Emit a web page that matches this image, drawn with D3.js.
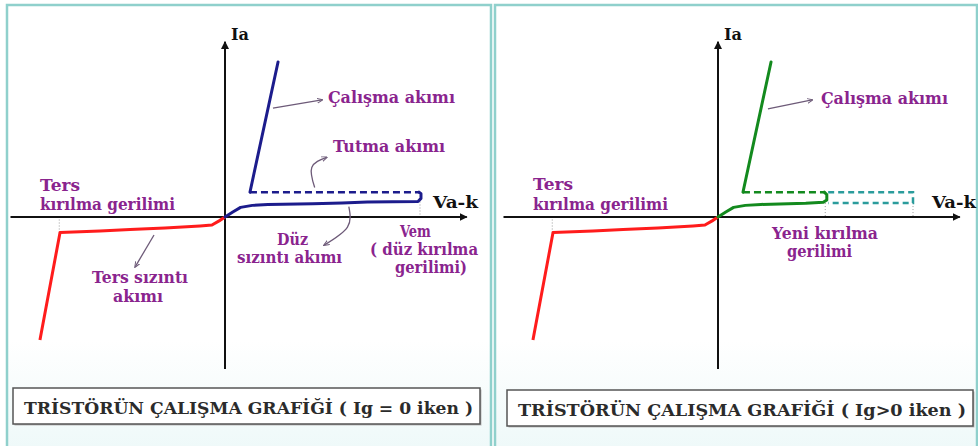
<!DOCTYPE html>
<html>
<head>
<meta charset="utf-8">
<script src="https://cdn.jsdelivr.net/npm/d3@7"></script>
<style>
html, body { margin: 0; padding: 0; background: #fff; }
svg { display: block; }
svg text { font-family: "DejaVu Serif", "Liberation Serif", "Times New Roman", serif; }
</style>
</head>
<body>
<div id="chart"></div>
<script>
// chart units: voltage Va-k (Vem = 100), current Ia (top of on-state line = 100)
const reverseCurve = [[0, 0], [-3, -2.5], [-6.7, -5.2], [-12.8, -5.8], [-30.8, -7.1], [-48.7, -8.1],
  [-64.1, -9], [-84.6, -10], [-94.9, -79.4]];
const forwardLeakLeft = [[0, 0], [4, 3.2], [8, 6.2], [14, 7.5], [22, 8.1], [45, 8.6], [60, 9.1],
  [73, 9.7], [99, 10], [100.5, 12], [100.5, 15], [99.5, 16]];
const forwardLeakRight = [[0, 0], [4, 3.2], [8, 6.2], [14, 7.5], [22, 8.1], [45, 8.9], [54, 9.5],
  [55.8, 11], [55.8, 14.5], [54.5, 16]];
const onState = [[12.8, 16], [27.2, 100]];
const holdingLeft = [[12.8, 16], [99.5, 16]];
const holdingRight = [[12.8, 16], [55, 16]];
const oldBreakover = [[56.5, 16], [100, 16], [100, 9], [56.5, 9]];

const reverseBreak = -85;   // ters kirilma gerilimi
const vem = 100;            // duz kirilma gerilimi (Ig = 0)
const newBreak = 55;        // yeni kirilma gerilimi (Ig > 0)

const axisX = [-110, 124];
const axisY = [-98, 113];

const leftLabels = [
  { t: "Ia", v: 3.1, i: 114.2, w: 18, c: "#111" },
  { t: "Va-k", v: 106.7, i: 5.8, w: 45, c: "#111" },
  { t: "Çalışma akımı", v: 52.8, i: 73.5, w: 127 },
  { t: "Tutma akımı", v: 55.4, i: 41.9, w: 112 },
  { t: "Ters", v: -94.9, i: 16.8, w: 40 },
  { t: "kırılma gerilimi", v: -94.9, i: 4.5, w: 135 },
  { t: "Ters sızıntı", v: -68.2, i: -42.6, w: 96 },
  { t: "akımı", v: -57.4, i: -54.8, w: 50 },
  { t: "Düz", v: 26.7, i: -17.8, w: 31 },
  { t: "sızıntı akımı", v: 6.2, i: -29.9, w: 105 },
  { t: "Vem", v: 89.7, i: -12.9, w: 31 },
  { t: "( düz kırılma", v: 74.4, i: -24.5, w: 108 },
  { t: "gerilimi)", v: 87.2, i: -36.1, w: 72 }
];
const rightLabels = [
  { t: "Ia", v: 3.1, i: 114.2, w: 18, c: "#111" },
  { t: "Va-k", v: 109.7, i: 5.8, w: 44, c: "#111" },
  { t: "Çalışma akımı", v: 52.8, i: 72.9, w: 127 },
  { t: "Ters", v: -94.9, i: 17.4, w: 40 },
  { t: "kırılma gerilimi", v: -94.9, i: 4.5, w: 135 },
  { t: "Yeni kırılma", v: 27.7, i: -14.2, w: 106 },
  { t: "gerilimi", v: 35.4, i: -25.8, w: 65 }
];

// pointer arrows (chart units)
const leftPointers = [
  [[24.6, 70.3], [49.7, 75.5]],
  [[46, 19], [44.5, 32], [52, 38.5]],
  [[63.5, 6.7], [62.8, -6.5], [51, -18]],
  [[-36.4, -11.6], [-46, -32]]
];
const rightPointers = [
  [[25.6, 69.7], [48.2, 75.5]]
];

const captions = ["TRİSTÖRÜN ÇALIŞMA GRAFİĞİ ( Ig = 0 iken )", "TRİSTÖRÜN ÇALIŞMA GRAFİĞİ ( Ig>0 iken )"];

const width = 978, height = 446;
const svg = d3.select("#chart").append("svg")
  .attr("width", width)
  .attr("height", height);

const defs = svg.append("defs");
const grad = defs.append("linearGradient").attr("id", "bg").attr("x1", 0).attr("y1", 0).attr("x2", 0).attr("y2", 1);
grad.append("stop").attr("offset", "0%").attr("stop-color", "#ffffff");
grad.append("stop").attr("offset", "75%").attr("stop-color", "#ffffff");
grad.append("stop").attr("offset", "100%").attr("stop-color", "#eef9f9");

defs.append("marker").attr("id", "axArrow")
  .attr("viewBox", "0 0 10 10").attr("refX", 9).attr("refY", 5)
  .attr("markerWidth", 4).attr("markerHeight", 4).attr("orient", "auto")
  .append("path").attr("d", "M0,0L10,5L0,10Z").attr("fill", "#111");
defs.append("marker").attr("id", "ptArrow")
  .attr("viewBox", "0 0 10 10").attr("refX", 8).attr("refY", 5)
  .attr("markerWidth", 6).attr("markerHeight", 6).attr("markerUnits", "userSpaceOnUse").attr("orient", "auto")
  .append("path").attr("d", "M0,1L10,5L0,9").attr("fill", "none").attr("stroke", "#6d5a78").attr("stroke-width", 1.6);

const panels = [
  { px: 7, pw: 484, origin: 225, color: "#1c1c8c", leak: forwardLeakLeft, hold: holdingLeft, labels: leftLabels, pointers: leftPointers,
    cap: { x: 13, y: 388, w: 467, h: 36 } },
  { px: 495, pw: 482, origin: 718, color: "#138a1e", leak: forwardLeakRight, hold: holdingRight, labels: rightLabels, pointers: rightPointers,
    cap: { x: 507, y: 390, w: 466, h: 36 } }
];

panels.forEach((p, k) => {
  const x = d3.scaleLinear().domain([0, 100]).range([p.origin, p.origin + 195]);
  const y = d3.scaleLinear().domain([0, 100]).range([217, 62]);
  const line = d3.line().x(d => x(d[0])).y(d => y(d[1]));
  const g = svg.append("g");

  g.append("rect")
    .attr("x", p.px).attr("y", 5).attr("width", p.pw).attr("height", height)
    .attr("fill", "url(#bg)").attr("stroke", "#8fd0cc").attr("stroke-width", 2.5);

  // small dotted guide lines to the axis
  const guides = k === 0 ? [[reverseBreak, -10], [vem, 10]] : [[reverseBreak, -10], [newBreak, 9], [vem, 9]];
  g.selectAll(".guide").data(guides).enter().append("line")
    .attr("x1", d => x(d[0])).attr("x2", d => x(d[0]))
    .attr("y1", d => y(d[1])).attr("y2", y(0))
    .attr("stroke", "#9a9a9a").attr("stroke-width", 1).attr("stroke-dasharray", "1,2");

  // axes
  g.append("line")
    .attr("x1", x(axisX[0])).attr("x2", x(axisX[1]))
    .attr("y1", y(0)).attr("y2", y(0))
    .attr("stroke", "#111").attr("stroke-width", 2).attr("marker-end", "url(#axArrow)");
  g.append("line")
    .attr("x1", x(0)).attr("x2", x(0))
    .attr("y1", y(axisY[0])).attr("y2", y(axisY[1]))
    .attr("stroke", "#111").attr("stroke-width", 2).attr("marker-end", "url(#axArrow)");

  // reverse characteristic
  g.append("path").datum(reverseCurve)
    .attr("d", line).attr("fill", "none")
    .attr("stroke", "#ff1c1c").attr("stroke-width", 3).attr("stroke-linejoin", "round");

  if (k === 1) {
    g.append("path").datum(oldBreakover)
      .attr("d", line).attr("fill", "none")
      .attr("stroke", "#2a9c9c").attr("stroke-width", 2.5).attr("stroke-dasharray", "6,4");
  }

  // holding current (dashed)
  g.append("path").datum(p.hold)
    .attr("d", line).attr("fill", "none")
    .attr("stroke", p.color).attr("stroke-width", 2.6).attr("stroke-dasharray", "7,4");

  // forward leakage + on-state
  g.append("path").datum(p.leak)
    .attr("d", line).attr("fill", "none")
    .attr("stroke", p.color).attr("stroke-width", 3).attr("stroke-linejoin", "round").attr("stroke-linecap", "round");
  g.append("path").datum(onState)
    .attr("d", line).attr("fill", "none")
    .attr("stroke", p.color).attr("stroke-width", 3).attr("stroke-linecap", "round");

  // pointer arrows
  g.selectAll(".ptr").data(p.pointers).enter().append("path")
    .attr("d", d3.line().x(d => x(d[0])).y(d => y(d[1])).curve(d3.curveNatural))
    .attr("fill", "none").attr("stroke", "#6d5a78").attr("stroke-width", 1.3)
    .attr("marker-end", "url(#ptArrow)");

  // labels
  g.selectAll(".lbl").data(p.labels).enter().append("text")
    .attr("x", d => x(d.v)).attr("y", d => y(d.i))
    .attr("textLength", d => d.w).attr("lengthAdjust", "spacingAndGlyphs")
    .attr("font-size", 16).attr("font-weight", "bold")
    .attr("fill", d => d.c || "#8a248e")
    .text(d => d.t);

  // caption box
  g.append("rect")
    .attr("x", p.cap.x + 1.5).attr("y", p.cap.y + 1.5).attr("width", p.cap.w).attr("height", p.cap.h)
    .attr("fill", "#bbb");
  g.append("rect")
    .attr("x", p.cap.x).attr("y", p.cap.y).attr("width", p.cap.w).attr("height", p.cap.h)
    .attr("fill", "#fff").attr("stroke", "#555").attr("stroke-width", 1.5);
  g.append("text")
    .attr("x", p.cap.x + 11).attr("y", p.cap.y + 26)
    .attr("textLength", p.cap.w - 18).attr("lengthAdjust", "spacingAndGlyphs")
    .attr("font-size", 16).attr("font-weight", "bold").attr("fill", "#2b2b2b")
    .text(captions[k]);
});
</script>
</body>
</html>
